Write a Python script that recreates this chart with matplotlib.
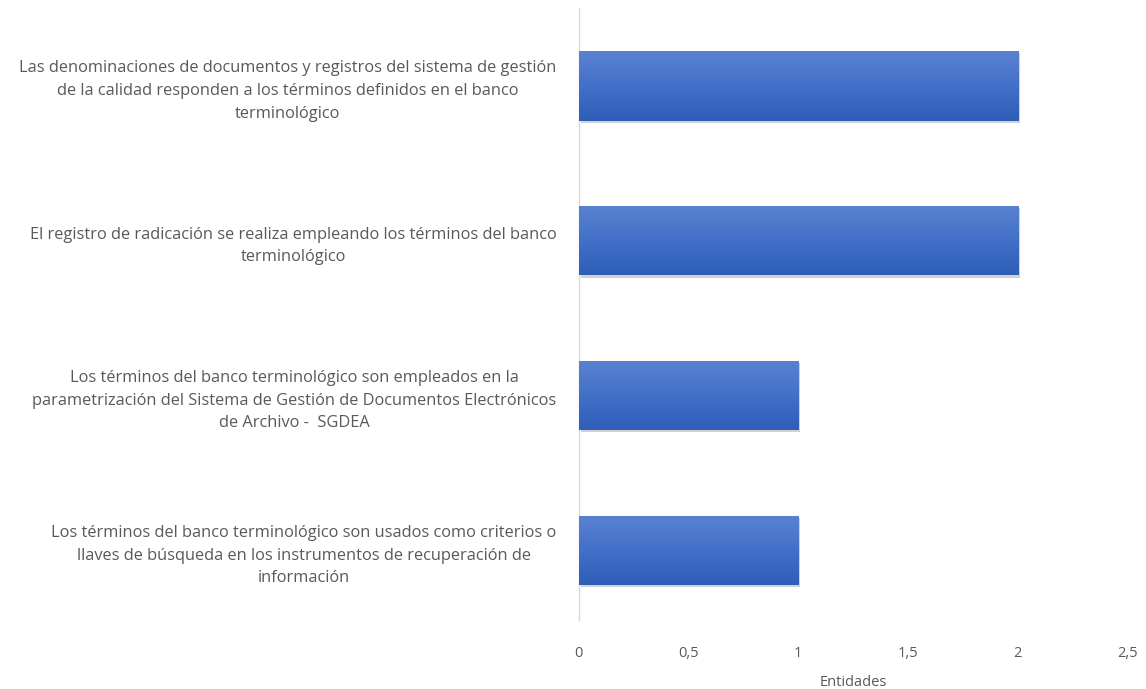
import matplotlib.pyplot as plt
import matplotlib.patheffects as pe
from matplotlib.colors import LinearSegmentedColormap
import numpy as np

plt.rcParams['font.family'] = ['Open Sans', 'DejaVu Sans']

categories = [
    "Las denominaciones de documentos y registros del sistema de gestión\n"
    "de la calidad responden a los términos definidos en el banco\nterminológico",
    "El registro de radicación se realiza empleando los términos del banco\nterminológico",
    "Los términos del banco terminológico son empleados en la\n"
    "parametrización del Sistema de Gestión de Documentos Electrónicos\nde Archivo -  SGDEA",
    "Los términos del banco terminológico son usados como criterios o\n"
    "llaves de búsqueda en los instrumentos de recuperación de\ninformación",
]
values = [2, 2, 1, 1]
xticks = [0, 0.5, 1, 1.5, 2, 2.5]
xtick_labels = ["0", "0,5", "1", "1,5", "2", "2,5"]

text_color = '#595959'

fig = plt.figure(figsize=(11.46, 6.89), dpi=100)
ax = fig.add_axes([0.505, 0.100, 0.479, 0.888])

y = np.arange(len(categories))
bars = ax.barh(y, values, height=0.45, color='#4472C4', zorder=2)

# vertical gradient on each bar + soft shadow
cmap = LinearSegmentedColormap.from_list('g', ['#5A82D0', '#4370C8', '#2E5EB8'])
grad = np.linspace(0, 1, 100).reshape(-1, 1)
for b in bars:
    b.set_path_effects([pe.SimplePatchShadow(offset=(1.5, -1.5), shadow_rgbFace='#999999', alpha=0.45), pe.Normal()])
    x0, y0 = b.get_x(), b.get_y()
    w, h = b.get_width(), b.get_height()
    im = ax.imshow(grad, cmap=cmap, aspect='auto', extent=[x0, x0 + w, y0 + h, y0],
                   zorder=3, interpolation='bilinear')
    im.set_clip_path(b)

ax.set_xlim(0, 2.5)
ax.set_ylim(3.45, -0.5)

ax.set_yticks(y)
ax.set_yticklabels(categories, multialignment='center', linespacing=1.55)
ax.set_xticks(xticks)
ax.set_xticklabels(xtick_labels)
ax.tick_params(axis='both', length=0, colors=text_color, labelsize=10.5)
ax.tick_params(axis='y', labelsize=11.8, pad=16)
ax.tick_params(axis='x', pad=19)

for s in ['top', 'right', 'bottom']:
    ax.spines[s].set_visible(False)
ax.spines['left'].set_color('#D9D9D9')
ax.spines['left'].set_linewidth(1)

ax.set_xlabel('Entidades', color=text_color, fontsize=10.5, labelpad=10)

fig.savefig('out.png', dpi=100, facecolor='white')
